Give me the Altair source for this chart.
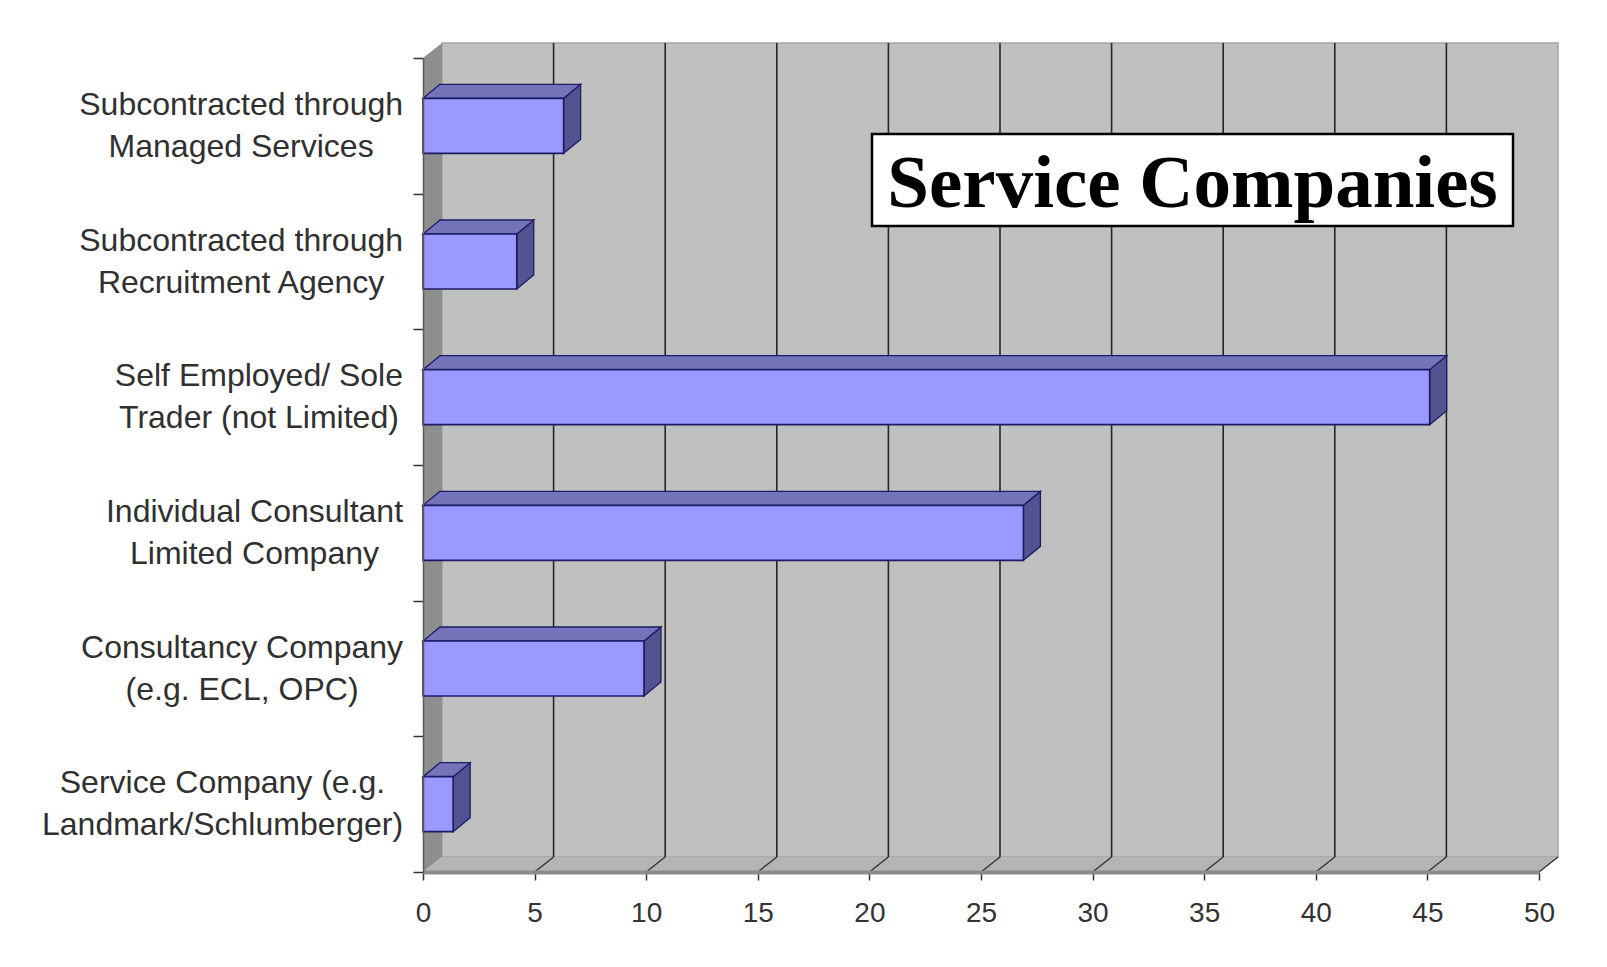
import altair as alt
import pandas as pd

# ---------------- data ----------------
categories = [
    "Subcontracted through\nManaged Services",
    "Subcontracted through\nRecruitment Agency",
    "Self Employed/ Sole\nTrader (not Limited)",
    "Individual Consultant\nLimited Company",
    "Consultancy Company\n(e.g. ECL, OPC)",
    "Service Company (e.g.\nLandmark/Schlumberger)",
]
values = [6.3, 4.2, 45.1, 26.9, 9.9, 1.35]
x_ticks = [0, 5, 10, 15, 20, 25, 30, 35, 40, 45, 50]
title_text = "Service Companies"

# ---------------- layout / style constants ----------------
W, H = 1116, 814
X_MAX = x_ticks[-1]
N = len(categories)
PXU = W / X_MAX          # px per x unit
PYU = H / N              # px per y unit
WALL_DX, WALL_DY = 19 / PXU, 15 / PYU
BAR_DX, BAR_DY = 17 / PXU, 14 / PYU
BAR_HALF = 27.5 / PYU
LABEL_SIZE = 32
LABEL_GAP = 20
LINE_H = 42

# approximate Arial / Liberation Sans advance widths (per 1000 em)
_w = {}
for chars, w in [("ijl", 222), (" !,./ftI", 278), ("()r-", 333),
                 ("cksvxyzJ", 500), ("abdeghnopqu0123456789L", 556),
                 ("FTZ", 611), ("ABEKPSVXY", 667), ("CDHNRUw", 722),
                 ("GOQ", 778), ("mM", 833), ("W", 944)]:
    for ch in chars:
        _w[ch] = w


def text_width(s, size):
    return sum(_w.get(ch, 556) for ch in s) * size / 1000


xs = alt.Scale(domain=[0, X_MAX], nice=False, zero=False)
ys = alt.Scale(domain=[0, N], nice=False, zero=False)

x_axis = alt.Axis(values=x_ticks, title=None, grid=False, tickSize=8,
                  tickColor="#333333", tickWidth=1.5, domainColor="#8c8c8c",
                  domainWidth=4, labelFont="Liberation Sans", labelFontSize=28,
                  labelColor="#333333", labelPadding=19, labelFlush=False,
                  labelOverlap=False, format="d", zindex=1)
y_axis = alt.Axis(values=list(range(N + 1)), title=None, grid=False,
                  labels=False, tickSize=10, tickColor="#333333",
                  tickWidth=1.5, domainColor="#5a5a5a", domainWidth=1.5,
                  zindex=1)


def X(field, **kw):
    return alt.X(field, scale=xs, axis=x_axis, **kw)


def Y(field, **kw):
    return alt.Y(field, scale=ys, axis=y_axis, **kw)


# ---------------- frame: back wall, left wall, floor ----------------
back_df = pd.DataFrame({"x": [WALL_DX], "x2": [X_MAX + WALL_DX],
                        "y": [WALL_DY], "y2": [N + WALL_DY]})
back_wall = alt.Chart(back_df).mark_rect(
    fill="#c0c0c0", stroke="#a4a4a4", strokeWidth=1.5
).encode(x=X("x:Q"), x2="x2:Q", y=Y("y:Q"), y2="y2:Q")

left_df = pd.DataFrame({"x": [0, WALL_DX], "y": [0, WALL_DY],
                        "y2": [N, N + WALL_DY]})
left_wall = alt.Chart(left_df).mark_area(
    orient="vertical", fill="#8e8e8e"
).encode(x=X("x:Q"), y=Y("y:Q", stack=False), y2="y2:Q")

floor_df = pd.DataFrame({"y": [0, WALL_DY], "x": [0, WALL_DX],
                         "x2": [X_MAX, X_MAX + WALL_DX]})
floor = alt.Chart(floor_df).mark_area(
    orient="horizontal", fill="#b4b4b4"
).encode(y=Y("y:Q"), x=X("x:Q", stack=False), x2="x2:Q")

grid_df = pd.DataFrame({"x": [v + WALL_DX for v in x_ticks[1:-1]]})
grid_df["y"] = WALL_DY
grid_df["y2"] = N + WALL_DY
back_grid = alt.Chart(grid_df).mark_rule(color="#262626", strokeWidth=1.6).encode(
    x=X("x:Q"), y=Y("y:Q"), y2="y2:Q")

fgrid_df = pd.DataFrame({"x": x_ticks[1:]})
fgrid_df["x2"] = fgrid_df["x"] + WALL_DX
fgrid_df["y"] = 0.0
fgrid_df["y2"] = WALL_DY
floor_grid = alt.Chart(fgrid_df).mark_rule(color="#333333", strokeWidth=1.4).encode(
    x=X("x:Q"), x2="x2:Q", y=Y("y:Q"), y2="y2:Q")

# ---------------- 3-D bars ----------------
rows, top_rows, side_rows, label_rows = [], [], [], []
for i, (cat, v) in enumerate(zip(categories, values)):
    c = N - i - 0.5
    lo, hi = c - BAR_HALF, c + BAR_HALF
    rows.append({"cat": cat, "x0": 0.0, "v": v, "lo": lo, "hi": hi})
    top_rows += [
        {"cat": cat, "y": hi, "x": 0.0, "x2": v},
        {"cat": cat, "y": hi + BAR_DY, "x": BAR_DX, "x2": v + BAR_DX},
    ]
    side_rows += [
        {"cat": cat, "x": v, "y": lo, "y2": hi},
        {"cat": cat, "x": v + BAR_DX, "y": lo + BAR_DY, "y2": hi + BAR_DY},
    ]
    wmax = max(text_width(s, LABEL_SIZE) for s in cat.split("\n"))
    label_rows.append({"cat": cat, "c": c,
                       "lx": (-LABEL_GAP - wmax / 2) / PXU})

bars_df = pd.DataFrame(rows)
top_df = pd.DataFrame(top_rows)
side_df = pd.DataFrame(side_rows)
label_df = pd.DataFrame(label_rows)

EDGE = "#1c1c66"
side = alt.Chart(side_df).mark_area(
    orient="vertical", fill="#535392", stroke=EDGE, strokeWidth=1.3
).encode(x=X("x:Q"), y=Y("y:Q", stack=False), y2="y2:Q", detail="cat:N")

top = alt.Chart(top_df).mark_area(
    orient="horizontal", fill="#7474ba", stroke=EDGE, strokeWidth=1.3
).encode(y=Y("y:Q"), x=X("x:Q", stack=False), x2="x2:Q", detail="cat:N")

front = alt.Chart(bars_df).mark_rect(
    fill="#9999ff", stroke=EDGE, strokeWidth=1.6
).encode(x=X("x0:Q"), x2="v:Q", y=Y("lo:Q"), y2="hi:Q")

labels = alt.Chart(label_df).mark_text(
    font="Liberation Sans", fontSize=LABEL_SIZE, color="#303030",
    align="center", baseline="middle", lineBreak="\n", lineHeight=LINE_H,
    dy=-LINE_H / 2,
).encode(x=X("lx:Q"), y=Y("c:Q"), text="cat:N")

# ---------------- title box ----------------
title_df = pd.DataFrame({"t": [title_text]})
title_box = alt.Chart(title_df).mark_rect(
    fill="white", stroke="black", strokeWidth=2.5
).encode(
    x=alt.value(449), x2=alt.value(1090),
    y=alt.value(76), y2=alt.value(168),
)
title_mark = alt.Chart(title_df).mark_text(
    font="Liberation Serif", fontWeight="bold", fontSize=75, color="black",
    align="center", baseline="alphabetic",
).encode(x=alt.value(769.5), y=alt.value(149), text="t:N")

chart = alt.layer(
    back_wall, left_wall, floor, back_grid, floor_grid,
    side, top, front, labels, title_box, title_mark,
).properties(
    width=W, height=H,
    autosize=alt.AutoSizeParams(type="none"),
    padding={"left": 415, "top": 50, "right": 50, "bottom": 80},
    background="white",
).configure_view(stroke=None)

chart.save("out.html", embed_options={"renderer": "svg", "actions": False})
